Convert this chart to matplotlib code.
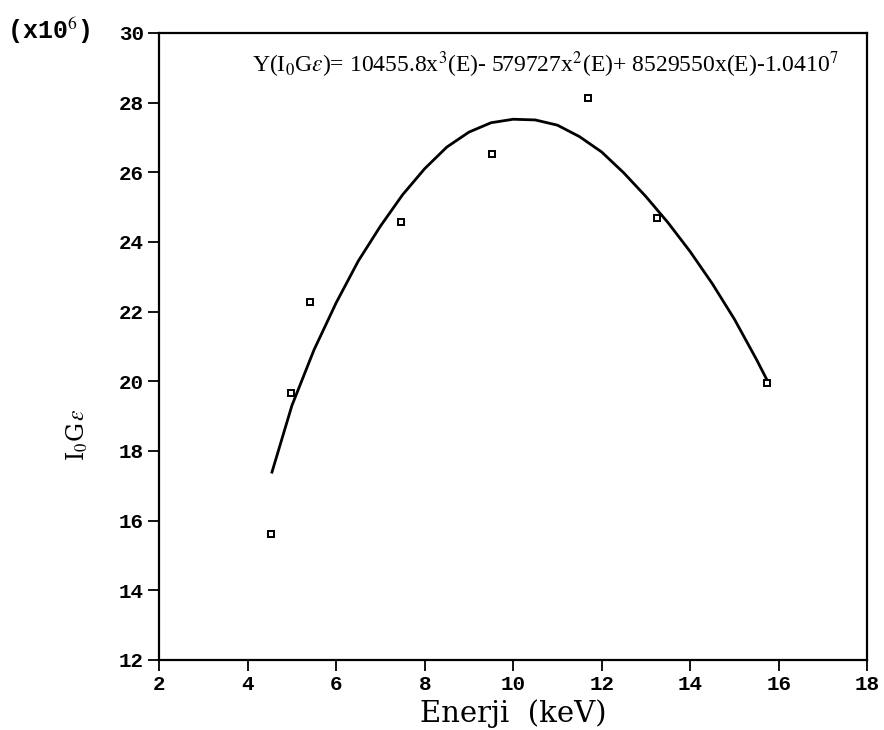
import matplotlib
matplotlib.use('Agg')
import matplotlib.pyplot as plt

# measured points (energy in keV, I0*G*eps in units of 1e6)
energy = [4.52, 4.97, 5.42, 7.47, 9.52, 11.68, 13.25, 15.74]
yield_vals = [15.62, 19.66, 22.28, 24.56, 26.52, 28.12, 24.68, 19.95]

# fitted curve
fit_x = [4.55, 5.0, 5.5, 6.0, 6.5, 7.0, 7.5, 8.0, 8.5, 9.0, 9.5, 10.0, 10.5,
         11.0, 11.5, 12.0, 12.5, 13.0, 13.5, 14.0, 14.5, 15.0, 15.5, 15.73]
fit_y = [17.39, 19.3, 20.9, 22.25, 23.45, 24.45, 25.35, 26.1, 26.72, 27.15,
         27.42, 27.52, 27.5, 27.35, 27.02, 26.58, 25.98, 25.3, 24.55, 23.72,
         22.8, 21.78, 20.62, 20.05]

x_ticks = [2, 4, 6, 8, 10, 12, 14, 16, 18]
y_ticks = [12, 14, 16, 18, 20, 22, 24, 26, 28, 30]

equation = (r'Y(I$_0$G$\varepsilon$)= 10455.8x$^3$(E)- 579727x$^2$(E)+ '
            r'8529550x(E)-1.0410$^7$')

plt.rcParams['mathtext.fontset'] = 'stix'

fig = plt.figure(figsize=(8.84, 7.30), dpi=100)
ax = fig.add_axes([0.180, 0.096, 0.801, 0.859])

ax.plot(fit_x, fit_y, color='black', linewidth=2)
ax.plot(energy, yield_vals, linestyle='none', marker='s', markersize=5,
        markerfacecolor='white', markeredgecolor='black', markeredgewidth=1.4)

ax.set_xlim(2, 18)
ax.set_ylim(12, 30)
ax.set_xticks(x_ticks)
ax.set_yticks(y_ticks)
ax.tick_params(direction='out', length=8, width=1.3, pad=3,
               top=False, right=False)
for lab in ax.get_xticklabels() + ax.get_yticklabels():
    lab.set_family('Liberation Mono')
    lab.set_fontweight('bold')
    lab.set_fontsize(15)
for sp in ax.spines.values():
    sp.set_linewidth(1.6)

ax.set_xlabel('Enerji  (keV)', family='DejaVu Serif', fontsize=21)
ax.xaxis.set_label_coords(0.5, -0.062)
ax.set_ylabel(r'I$_0$G$\,\varepsilon$', family='DejaVu Serif', fontsize=17)
ax.yaxis.label.set_va('center')
ax.yaxis.label.set_ha('center')
ax.yaxis.set_label_coords(-0.116, 0.36)

ax.text(4.11, 29.08, equation, family='Liberation Serif', fontsize=17,
        va='center', ha='left')

fig.text(0.008, 0.958, r'(x10$^{6}$)', family='Liberation Mono',
         fontweight='bold', fontsize=18, va='center', ha='left')

fig.savefig('out.png', dpi=100)
